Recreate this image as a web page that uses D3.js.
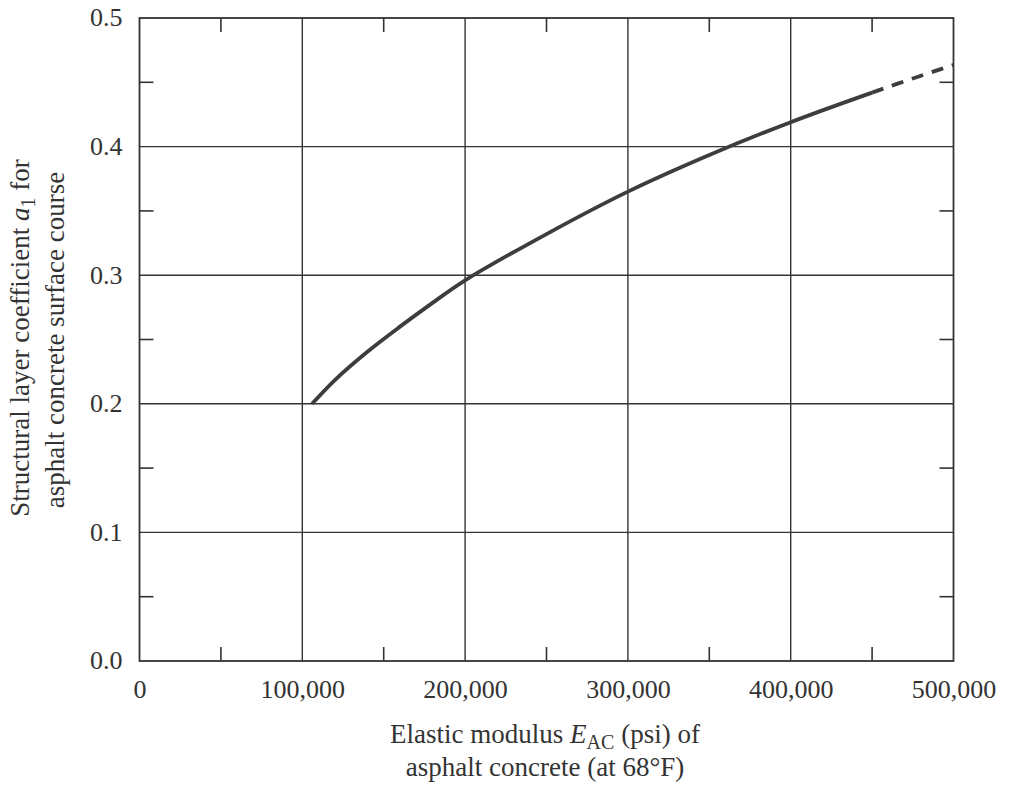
<!DOCTYPE html>
<html>
<head>
<meta charset="utf-8">
<script src="https://cdn.jsdelivr.net/npm/d3@7"></script>
<style>
html,body{margin:0;padding:0;background:#fff;}
svg{display:block;}
text{font-family:"Liberation Serif","DejaVu Serif",serif;fill:#333;}
</style>
</head>
<body>
<svg id="chart" width="1012" height="787"></svg>
<script>
// Data
const solidE  = [106000, 120000, 140000, 160000, 180000, 200000, 250000, 300000, 350000, 400000, 450000];
const solidA1 = [0.200, 0.2185, 0.2405, 0.2600, 0.2785, 0.2960, 0.3320, 0.3650, 0.3935, 0.4190, 0.4420];
const dashE   = [450000, 475000, 500000];
const dashA1  = [0.4420, 0.4530, 0.4635];
const xTickValues = [0, 100000, 200000, 300000, 400000, 500000];
const xTickLabels = ["0", "100,000", "200,000", "300,000", "400,000", "500,000"];
const yTickValues = [0.0, 0.1, 0.2, 0.3, 0.4, 0.5];
const yTickLabels = ["0.0", "0.1", "0.2", "0.3", "0.4", "0.5"];
const xMinor = [50000, 150000, 250000, 350000, 450000];
const yMinor = [0.05, 0.15, 0.25, 0.35, 0.45];

const svg = d3.select("#chart");
const L = 139.5, R = 953.5, T = 18, B = 661;
const x = d3.scaleLinear().domain([0, 500000]).range([L, R]);
const y = d3.scaleLinear().domain([0, 0.5]).range([B, T]);
const ink = "#333";

// gridlines
svg.append("g").selectAll("line").data(xTickValues.slice(1, -1)).join("line")
  .attr("x1", d => x(d)).attr("x2", d => x(d)).attr("y1", T).attr("y2", B)
  .attr("stroke", ink).attr("stroke-width", 1.4);
svg.append("g").selectAll("line").data(yTickValues.slice(1, -1)).join("line")
  .attr("y1", d => y(d)).attr("y2", d => y(d)).attr("x1", L).attr("x2", R)
  .attr("stroke", ink).attr("stroke-width", 1.4);

// minor ticks (inward), all four sides
const tl = 14;
const tg = svg.append("g").attr("stroke", ink).attr("stroke-width", 1.6);
tg.selectAll(".tb").data(xMinor).join("line").attr("class","tb")
  .attr("x1", d => x(d)).attr("x2", d => x(d)).attr("y1", B).attr("y2", B - tl);
tg.selectAll(".tt").data(xMinor).join("line").attr("class","tt")
  .attr("x1", d => x(d)).attr("x2", d => x(d)).attr("y1", T).attr("y2", T + tl);
tg.selectAll(".tlft").data(yMinor).join("line").attr("class","tlft")
  .attr("y1", d => y(d)).attr("y2", d => y(d)).attr("x1", L).attr("x2", L + tl);
tg.selectAll(".trt").data(yMinor).join("line").attr("class","trt")
  .attr("y1", d => y(d)).attr("y2", d => y(d)).attr("x1", R).attr("x2", R - tl);

// frame
svg.append("rect").attr("x", L).attr("y", T).attr("width", R - L).attr("height", B - T)
  .attr("fill", "none").attr("stroke", ink).attr("stroke-width", 1.8);

// axes labels via d3 axes (lines hidden)
const xAxis = d3.axisBottom(x).tickValues(xTickValues).tickFormat((d, i) => xTickLabels[i]).tickSize(0).tickPadding(0);
const gx = svg.append("g").attr("transform", `translate(0,${B})`).call(xAxis);
gx.select(".domain").remove();
gx.selectAll("text").attr("font-size", 26).attr("fill", ink).attr("dy", null).attr("y", 37)
  .style("font-family", '"Liberation Serif", serif');

const yAxis = d3.axisLeft(y).tickValues(yTickValues).tickFormat((d, i) => yTickLabels[i]).tickSize(0).tickPadding(0);
const gy = svg.append("g").attr("transform", `translate(${L},0)`).call(yAxis);
gy.select(".domain").remove();
gy.selectAll("text").attr("font-size", 26).attr("fill", ink).attr("x", -17).attr("dy", "0.3em")
  .style("font-family", '"Liberation Serif", serif');

// curve
const line = d3.line().x(d => x(d[0])).y(d => y(d[1])).curve(d3.curveCatmullRom);
svg.append("path").datum(solidE.map((e, i) => [e, solidA1[i]]))
  .attr("d", line).attr("fill", "none").attr("stroke", "#3d3d3d").attr("stroke-width", 3.8)
  .attr("stroke-linecap", "butt");
svg.append("path").datum(dashE.map((e, i) => [e, dashA1[i]]))
  .attr("d", line).attr("fill", "none").attr("stroke", "#3d3d3d").attr("stroke-width", 3.8)
  .attr("stroke-dasharray", "12,9");

// x axis title
const fs = 27;
const xt = svg.append("text").attr("x", 545).attr("y", 743).attr("text-anchor", "middle").attr("font-size", fs);
xt.append("tspan").text("Elastic modulus ");
xt.append("tspan").attr("font-style", "italic").text("E");
xt.append("tspan").attr("font-size", 20).attr("dy", 6).text("AC");
xt.append("tspan").attr("dy", -6).text(" (psi) of");
svg.append("text").attr("x", 545).attr("y", 776).attr("text-anchor", "middle").attr("font-size", fs)
  .text("asphalt concrete (at 68°F)");

// y axis title
const yt = svg.append("text").attr("transform", "translate(29,338) rotate(-90)").attr("text-anchor", "middle").attr("font-size", fs);
yt.append("tspan").text("Structural layer coefficient ");
yt.append("tspan").attr("font-style", "italic").text("a");
yt.append("tspan").attr("font-size", 20).attr("dy", 6).text("1");
yt.append("tspan").attr("dy", -6).text(" for");
svg.append("text").attr("transform", "translate(64,340) rotate(-90)").attr("text-anchor", "middle").attr("font-size", fs)
  .text("asphalt concrete surface course");
</script>
</body>
</html>
